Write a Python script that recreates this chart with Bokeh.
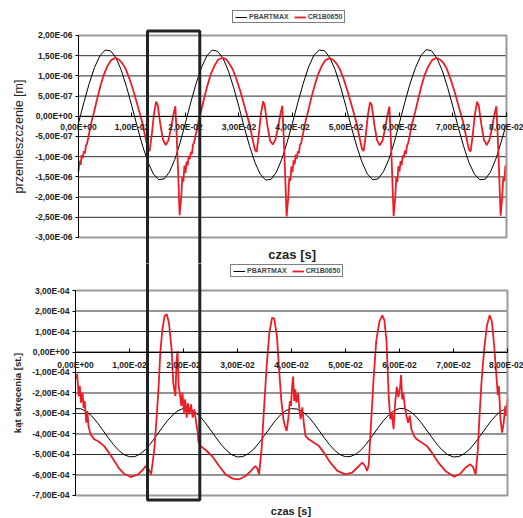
from math import pi
from bokeh.plotting import figure
from bokeh.models import (LinearAxis, FixedTicker, Legend, LegendItem, Label, Range1d)
from bokeh.layouts import column
from bokeh.embed import file_html
from bokeh.resources import INLINE

# ---------------- data ----------------
X_TICKS = [0.0, 0.01, 0.02, 0.03, 0.04, 0.05, 0.06, 0.07, 0.08]
X_LABELS = ["0,00E+00", "1,00E-02", "2,00E-02", "3,00E-02", "4,00E-02",
            "5,00E-02", "6,00E-02", "7,00E-02", "8,00E-02"]

# top chart: displacement, values in units of 1E-06 m
TOP_Y_TICKS = [-3.0, -2.5, -2.0, -1.5, -1.0, -0.5, 0.0, 0.5, 1.0, 1.5, 2.0]
TOP_Y_LABELS = ["-3,00E-06", "-2,50E-06", "-2,00E-06", "-1,50E-06", "-1,00E-06",
                "-5,00E-07", "0,00E+00", "5,00E-07", "1,00E-06", "1,50E-06", "2,00E-06"]

# bottom chart: twist angle, values in units of 1E-04 deg
BOT_Y_TICKS = [-7.0, -6.0, -5.0, -4.0, -3.0, -2.0, -1.0, 0.0, 1.0, 2.0, 3.0]
BOT_Y_LABELS = ["-7,00E-04", "-6,00E-04", "-5,00E-04", "-4,00E-04", "-3,00E-04",
                "-2,00E-04", "-1,00E-04", "0,00E+00", "1,00E-04", "2,00E-04", "3,00E-04"]

SERIES = ["PBARTMAX", "CR1B0650"]

T_BLACK = [0.000, 0.001, 0.002, 0.003, 0.004, 0.005, 0.006, 0.007, 0.008, 0.009,
           0.010, 0.011, 0.012, 0.013, 0.014, 0.015, 0.016, 0.017, 0.018, 0.019,
           0.020, 0.021, 0.022, 0.023, 0.024, 0.025, 0.026, 0.027, 0.028, 0.029,
           0.030, 0.031, 0.032, 0.033, 0.034, 0.035, 0.036, 0.037, 0.038, 0.039,
           0.040, 0.041, 0.042, 0.043, 0.044, 0.045, 0.046, 0.047, 0.048, 0.049,
           0.050, 0.051, 0.052, 0.053, 0.054, 0.055, 0.056, 0.057, 0.058, 0.059,
           0.060, 0.061, 0.062, 0.063, 0.064, 0.065, 0.066, 0.067, 0.068, 0.069,
           0.070, 0.071, 0.072, 0.073, 0.074, 0.075, 0.076, 0.077, 0.078, 0.079,
           0.080]

TOP_BLACK = [-0.17, 0.34, 0.81, 1.21, 1.50, 1.64, 1.62, 1.45, 1.14, 0.72,
             0.24, -0.27, -0.74, -1.14, -1.43, -1.57, -1.55, -1.38, -1.07, -0.65,
             -0.16, 0.35, 0.82, 1.21, 1.50, 1.64, 1.61, 1.44, 1.13, 0.71,
             0.23, -0.28, -0.75, -1.15, -1.44, -1.58, -1.56, -1.38, -1.06, -0.64,
             -0.17, 0.34, 0.81, 1.22, 1.51, 1.64, 1.62, 1.45, 1.14, 0.72,
             0.24, -0.27, -0.74, -1.14, -1.43, -1.57, -1.55, -1.37, -1.07, -0.65,
             -0.16, 0.35, 0.82, 1.21, 1.50, 1.65, 1.62, 1.44, 1.13, 0.71,
             0.23, -0.28, -0.75, -1.15, -1.43, -1.57, -1.56, -1.38, -1.06, -0.64,
             -0.17]

TOP_RED_T = [
    0.0000, 0.0002, 0.0004, 0.0006, 0.0008, 0.0010, 0.0012, 0.0014, 0.0016, 0.0019,
    0.0022, 0.0025, 0.0029, 0.0035, 0.0041, 0.0047, 0.0054, 0.0061, 0.0069, 0.0076,
    0.0082, 0.0088, 0.0095, 0.0103, 0.0111, 0.0119, 0.0125, 0.0130, 0.0133, 0.0137,
    0.0141, 0.0145, 0.0148, 0.0153, 0.0158, 0.0163, 0.0168, 0.0173, 0.0177, 0.0181,
    0.0183, 0.0186, 0.0189, 0.0192, 0.0194, 0.0196, 0.0198,
    0.0200, 0.0202, 0.0204, 0.0206, 0.0208, 0.0210, 0.0212, 0.0214, 0.0216, 0.0219,
    0.0222, 0.0225, 0.0229, 0.0235, 0.0241, 0.0247, 0.0254, 0.0261, 0.0269, 0.0276,
    0.0282, 0.0288, 0.0295, 0.0303, 0.0311, 0.0319, 0.0325, 0.0330, 0.0333, 0.0337,
    0.0341, 0.0345, 0.0348, 0.0353, 0.0358, 0.0363, 0.0368, 0.0373, 0.0377, 0.0381,
    0.0383, 0.0386, 0.0389, 0.0392, 0.0394, 0.0396, 0.0398,
    0.0400, 0.0402, 0.0404, 0.0406, 0.0408, 0.0410, 0.0412, 0.0414, 0.0416, 0.0419,
    0.0422, 0.0425, 0.0429, 0.0435, 0.0441, 0.0447, 0.0454, 0.0461, 0.0469, 0.0476,
    0.0482, 0.0488, 0.0495, 0.0503, 0.0511, 0.0519, 0.0525, 0.0530, 0.0533, 0.0537,
    0.0541, 0.0545, 0.0548, 0.0553, 0.0558, 0.0563, 0.0568, 0.0573, 0.0577, 0.0581,
    0.0583, 0.0586, 0.0589, 0.0592, 0.0594, 0.0596, 0.0598,
    0.0600, 0.0602, 0.0604, 0.0606, 0.0608, 0.0610, 0.0612, 0.0614, 0.0616, 0.0619,
    0.0622, 0.0625, 0.0629, 0.0635, 0.0641, 0.0647, 0.0654, 0.0661, 0.0669, 0.0676,
    0.0682, 0.0688, 0.0695, 0.0703, 0.0711, 0.0719, 0.0725, 0.0730, 0.0733, 0.0737,
    0.0741, 0.0745, 0.0748, 0.0753, 0.0758, 0.0763, 0.0768, 0.0773, 0.0777, 0.0781,
    0.0783, 0.0786, 0.0789, 0.0792, 0.0794, 0.0796, 0.0798,
    0.0800]

TOP_RED = [
    -1.36, -1.10, -1.20, -0.96, -1.04, -0.86, -0.92, -0.72, -0.68, -0.48,
    -0.28, -0.10, 0.10, 0.44, 0.75, 1.02, 1.24, 1.39, 1.45, 1.40,
    1.31, 1.18, 0.94, 0.62, 0.24, -0.14, -0.52, -0.82, -0.86, -0.45,
    0.05, 0.36, 0.28, -0.20, -0.58, -0.71, -0.60, -0.30, 0.02, 0.25,
    -0.30, -1.30, -2.45, -2.00, -1.50, -1.62, -1.22,
    -1.40, -1.12, -1.22, -0.98, -1.06, -0.88, -0.94, -0.70, -0.66, -0.46,
    -0.30, -0.08, 0.12, 0.46, 0.76, 1.03, 1.25, 1.40, 1.45, 1.41,
    1.30, 1.17, 0.93, 0.60, 0.22, -0.16, -0.54, -0.84, -0.88, -0.44,
    0.06, 0.37, 0.27, -0.22, -0.60, -0.70, -0.58, -0.28, 0.03, 0.26,
    -0.32, -1.35, -2.48, -2.02, -1.52, -1.60, -1.24,
    -1.38, -1.09, -1.19, -0.95, -1.05, -0.87, -0.91, -0.71, -0.67, -0.47,
    -0.29, -0.09, 0.11, 0.45, 0.74, 1.01, 1.23, 1.38, 1.44, 1.40,
    1.31, 1.18, 0.95, 0.62, 0.25, -0.13, -0.51, -0.81, -0.86, -0.46,
    0.04, 0.35, 0.28, -0.21, -0.59, -0.72, -0.61, -0.31, 0.01, 0.24,
    -0.30, -1.32, -2.47, -2.01, -1.50, -1.63, -1.23,
    -1.37, -1.11, -1.21, -0.97, -1.03, -0.85, -0.93, -0.73, -0.67, -0.49,
    -0.27, -0.11, 0.09, 0.43, 0.75, 1.02, 1.24, 1.39, 1.45, 1.40,
    1.32, 1.19, 0.94, 0.61, 0.23, -0.15, -0.53, -0.83, -0.87, -0.45,
    0.05, 0.36, 0.27, -0.20, -0.59, -0.71, -0.59, -0.29, 0.02, 0.25,
    -0.31, -1.31, -2.46, -2.00, -1.51, -1.61, -1.22,
    -1.30]

BOT_BLACK = [-2.76, -2.77, -2.90, -3.12, -3.43, -3.79, -4.16, -4.51, -4.80, -5.01,
             -5.11, -5.10, -4.97, -4.75, -4.44, -4.08, -3.71, -3.36, -3.07, -2.86,
             -2.75, -2.77, -2.91, -3.13, -3.44, -3.80, -4.17, -4.52, -4.81, -5.02,
             -5.12, -5.10, -4.96, -4.74, -4.43, -4.07, -3.70, -3.35, -3.06, -2.85,
             -2.76, -2.78, -2.90, -3.12, -3.43, -3.79, -4.16, -4.51, -4.80, -5.01,
             -5.11, -5.09, -4.97, -4.75, -4.44, -4.08, -3.71, -3.36, -3.07, -2.86,
             -2.75, -2.77, -2.91, -3.13, -3.44, -3.80, -4.17, -4.52, -4.81, -5.02,
             -5.12, -5.10, -4.96, -4.74, -4.43, -4.07, -3.70, -3.35, -3.06, -2.85,
             -2.76]

BOT_RED_T = [
    0.0000, 0.0003, 0.0006, 0.0008, 0.0010, 0.0013, 0.0015, 0.0017, 0.0020, 0.0022,
    0.0024, 0.0028, 0.0035, 0.0044, 0.0053, 0.0062, 0.0072, 0.0081, 0.0090, 0.0102,
    0.0115, 0.0124, 0.0130, 0.0135, 0.0140, 0.0146, 0.0150, 0.0154, 0.0157, 0.0161,
    0.0165, 0.0169, 0.0173, 0.0178, 0.0181, 0.0185, 0.0187, 0.0189, 0.0191, 0.0193,
    0.0196, 0.0198, 0.0201, 0.0203, 0.0206, 0.0208, 0.0211, 0.0214, 0.0217, 0.0220,
    0.0223, 0.0226, 0.0228, 0.0232, 0.0241, 0.0254, 0.0266, 0.0278, 0.0291, 0.0303,
    0.0315, 0.0325, 0.0333, 0.0337, 0.0340, 0.0345, 0.0349, 0.0354, 0.0359, 0.0364,
    0.0368, 0.0373, 0.0377, 0.0381, 0.0385, 0.0388, 0.0391, 0.0394, 0.0397, 0.0399,
    0.0401, 0.0403, 0.0405, 0.0407, 0.0409, 0.0412, 0.0415, 0.0417, 0.0420, 0.0423,
    0.0426, 0.0432, 0.0441, 0.0451, 0.0460, 0.0472, 0.0485, 0.0500, 0.0512, 0.0525,
    0.0531, 0.0536, 0.0540, 0.0543, 0.0546, 0.0549, 0.0552, 0.0557, 0.0563, 0.0568,
    0.0572, 0.0576, 0.0580, 0.0583, 0.0586, 0.0589, 0.0592, 0.0595, 0.0598, 0.0601,
    0.0603, 0.0605, 0.0607, 0.0610, 0.0613, 0.0616, 0.0619, 0.0622, 0.0627, 0.0632,
    0.0641, 0.0651, 0.0660, 0.0672, 0.0685, 0.0701, 0.0712, 0.0722, 0.0731, 0.0736,
    0.0741, 0.0745, 0.0748, 0.0752, 0.0757, 0.0762, 0.0767, 0.0771, 0.0775, 0.0779,
    0.0782, 0.0784, 0.0787, 0.0790, 0.0793, 0.0796, 0.0798, 0.0800]

BOT_RED = [
    -1.30, -1.07, -2.15, -1.66, -2.47, -1.98, -2.72, -2.39, -3.45, -2.88,
    -3.61, -4.02, -4.26, -4.39, -4.59, -4.91, -5.32, -5.69, -5.94, -6.10,
    -5.98, -5.77, -5.56, -5.69, -5.97, -4.75, -3.28, -1.66, -0.03, 1.11,
    1.76, 1.84, 1.43, 0.13, -1.50, -2.15, -0.52, 0.05, -1.66, -1.98,
    -2.63, -1.98, -2.96, -2.31, -3.20, -2.50, -3.04, -2.55, -3.20, -2.80,
    -3.37, -3.85, -4.42, -4.59, -4.78, -5.11, -5.56, -5.97, -6.18, -6.21,
    -6.05, -5.80, -5.56, -5.69, -5.97, -4.59, -2.80, -0.68, 0.94, 1.67,
    1.63, 0.78, -0.85, -2.31, -3.28, -3.61, -3.85, -3.28, -2.39, -2.63,
    -1.74, -1.20, -2.39, -1.82, -2.47, -2.00, -2.90, -3.28, -2.70, -3.53,
    -4.10, -4.26, -4.42, -4.59, -4.91, -5.40, -5.80, -5.97, -5.89, -5.56,
    -5.40, -5.55, -5.80, -5.50, -4.10, -2.70, -1.30, 0.55, 1.50, 1.79,
    1.55, 0.50, -2.15, -3.28, -2.96, -3.77, -2.47, -1.70, -2.20, -1.74,
    -1.12, -2.31, -1.99, -2.70, -3.12, -3.45, -3.10, -3.77, -4.10, -4.26,
    -4.42, -4.59, -4.91, -5.40, -5.80, -6.08, -5.95, -5.65, -5.48, -5.60,
    -5.97, -4.80, -3.20, -1.40, 0.20, 1.30, 1.79, 1.50, 0.40, -1.00,
    -2.10, -1.66, -3.28, -3.93, -3.45, -2.63, -3.12, -2.31]

# highlighted time window (black frame drawn over both charts)
WINDOW_TOP = (0.0129, 0.02267, 2.11)     # t0, t1, top edge (1E-06 m)
WINDOW_BOT = (0.01333, 0.02302, -7.22)   # t0, t1, bottom edge (1E-04 st.)

# ---------------- styling ----------------
FONT = "Liberation Sans"
RED = "#ee1c24"
W = 523
H_TOP = 263
H_BOT = 255
TICK_FS = "8.5px"
GRID_C = "#2a2a2a"
BORDER_C = "#9a9a9a"


def make_chart(h, xr, yr, y_ticks, y_labels, black, red_t, red, legend_loc,
               ytitle, ytitle_xy, ytitle_fs, ytitle_style, xtitle_xy, xtitle_fs, x_std):
    p = figure(width=W, height=h, x_range=Range1d(*xr), y_range=Range1d(*yr),
               x_axis_type=None, y_axis_type=None, toolbar_location=None,
               output_backend="svg", min_border=0, outline_line_color=None,
               background_fill_color="white", border_fill_color="white")

    x0, x1 = X_TICKS[0], X_TICKS[-1]
    # horizontal grid lines (only across the plot area)
    p.segment(x0=[x0] * len(y_ticks), x1=[x1] * len(y_ticks), y0=y_ticks, y1=y_ticks,
              line_color=GRID_C, line_width=1)

    rb = p.line(T_BLACK, black, line_color="black", line_width=1)
    rr = p.line(red_t, red, line_color=RED, line_width=1.8)

    # plot-area border (grey) top, right, bottom
    p.line([x0, x1, x1, x0], [y_ticks[-1], y_ticks[-1], y_ticks[0], y_ticks[0]],
           line_color=BORDER_C, line_width=2)

    yaxis = LinearAxis(ticker=FixedTicker(ticks=y_ticks), fixed_location=0.0,
                       bounds=(y_ticks[0], y_ticks[-1]),
                       major_label_overrides=dict(zip(y_ticks, y_labels)),
                       major_tick_in=0, major_tick_out=3, minor_tick_out=0, minor_tick_in=0,
                       major_label_standoff=3, axis_line_color="black",
                       major_tick_line_color="black",
                       major_label_text_font=FONT, major_label_text_font_size=TICK_FS,
                       major_label_text_font_style="bold", major_label_text_color="#222222")
    p.add_layout(yaxis, "left")

    xaxis = LinearAxis(ticker=FixedTicker(ticks=X_TICKS), fixed_location=0.0,
                       bounds=(x0, x1),
                       major_label_overrides=dict(zip(X_TICKS, X_LABELS)),
                       major_tick_in=4, major_tick_out=0, minor_tick_out=0, minor_tick_in=0,
                       major_label_standoff=x_std, axis_line_color="black",
                       major_tick_line_color="black",
                       major_label_text_font=FONT, major_label_text_font_size=TICK_FS,
                       major_label_text_font_style="bold", major_label_text_color="#222222")
    p.add_layout(xaxis, "below")

    legend = Legend(items=[LegendItem(label=SERIES[0], renderers=[rb]),
                           LegendItem(label=SERIES[1], renderers=[rr])],
                    orientation="horizontal", location=legend_loc,
                    label_text_font=FONT, label_text_font_size="7px",
                    label_text_font_style="bold", label_height=6, glyph_height=6,
                    glyph_width=12, label_standoff=2, spacing=5, padding=2, margin=0,
                    border_line_color="black", border_line_width=1,
                    background_fill_color="white", background_fill_alpha=1)
    p.add_layout(legend, "center")

    p.add_layout(Label(x=ytitle_xy[0], y=ytitle_xy[1], text=ytitle, angle=pi / 2,
                       text_align="center", text_baseline="middle", text_font=FONT,
                       text_font_size=ytitle_fs, text_font_style=ytitle_style,
                       text_color="#222222"))
    p.add_layout(Label(x=xtitle_xy[0], y=xtitle_xy[1], text="czas [s]",
                       text_align="center", text_baseline="middle", text_font=FONT,
                       text_font_size=xtitle_fs, text_font_style="bold",
                       text_color="#222222"))
    return p


top = make_chart(h=H_TOP, xr=(-0.014579, 0.083178), yr=(-3.6436, 2.8663),
                 y_ticks=TOP_Y_TICKS, y_labels=TOP_Y_LABELS, black=TOP_BLACK,
                 red_t=TOP_RED_T, red=TOP_RED, legend_loc=(232, 240),
                 ytitle="przemieszczenie [m]", ytitle_xy=(-0.01103, -0.50),
                 ytitle_fs="12.5px", ytitle_style="normal",
                 xtitle_xy=(0.03994, -3.42), xtitle_fs="13px", x_std=6)

bot = make_chart(h=H_BOT, xr=(-0.013889, 0.082963), yr=(-8.1220, 4.3171),
                 y_ticks=BOT_Y_TICKS, y_labels=BOT_Y_LABELS, black=BOT_BLACK,
                 red_t=BOT_RED_T, red=BOT_RED, legend_loc=(230, 241),
                 ytitle="kąt skręcenia [st.]", ytitle_xy=(-0.01074, -2.0),
                 ytitle_fs="9.5px", ytitle_style="bold",
                 xtitle_xy=(0.0399, -7.78), xtitle_fs="11px", x_std=8)

# black highlight frame spanning both charts
wt0, wt1, wtop = WINDOW_TOP
top.line([wt0, wt0, wt1, wt1], [-10.0, wtop, wtop, -10.0], line_color="#222222", line_width=3)
wb0, wb1, wbot = WINDOW_BOT
bot.line([wb0, wb0, wb1, wb1], [10.0, wbot, wbot, 10.0], line_color="#222222", line_width=3)

layout = column(top, bot, spacing=0)
open("out.html", "w").write(file_html(layout, INLINE))
